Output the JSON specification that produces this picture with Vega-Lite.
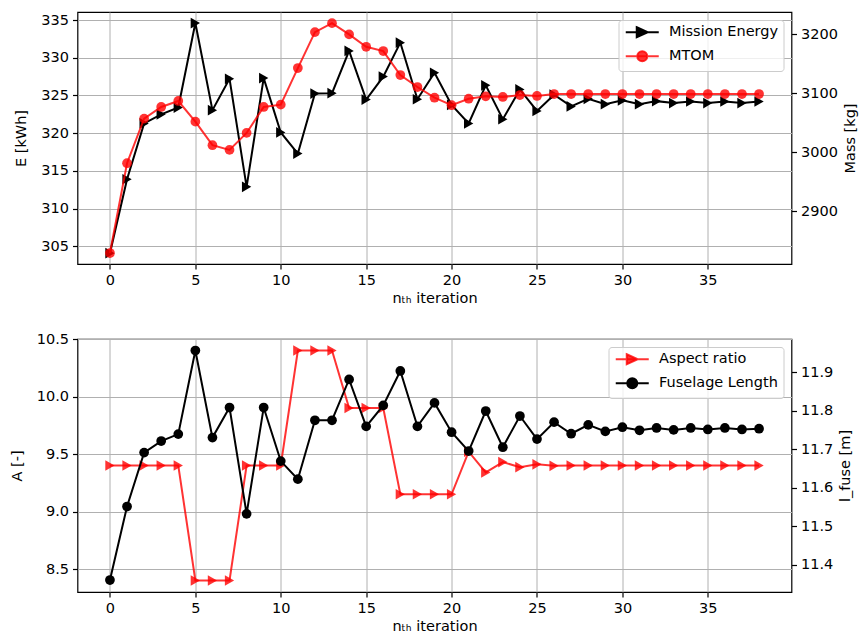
{
  "$schema": "https://vega.github.io/schema/vega-lite/v6.json",
  "padding": {"left": 8.5, "top": 11, "right": 2, "bottom": 2},
  "datasets": {
    "top": [
      {"i": 0, "energy": 304.1, "mtom": 2829.6},
      {"i": 1, "energy": 313.9, "mtom": 2981.8},
      {"i": 2, "energy": 321.3, "mtom": 3057.3},
      {"i": 3, "energy": 322.5, "mtom": 3077.1},
      {"i": 4, "energy": 323.4, "mtom": 3087.2},
      {"i": 5, "energy": 334.6, "mtom": 3052.2},
      {"i": 6, "energy": 323.05, "mtom": 3012.3},
      {"i": 7, "energy": 327.2, "mtom": 3004.3},
      {"i": 8, "energy": 312.9, "mtom": 3033.1},
      {"i": 9, "energy": 327.3, "mtom": 3077.1},
      {"i": 10, "energy": 320.1, "mtom": 3081.0},
      {"i": 11, "energy": 317.3, "mtom": 3143.0},
      {"i": 12, "energy": 325.25, "mtom": 3203.9},
      {"i": 13, "energy": 325.3, "mtom": 3219.1},
      {"i": 14, "energy": 330.9, "mtom": 3200.0},
      {"i": 15, "energy": 324.45, "mtom": 3179.0},
      {"i": 16, "energy": 327.5, "mtom": 3171.8},
      {"i": 17, "energy": 332.0, "mtom": 3131.2},
      {"i": 18, "energy": 324.5, "mtom": 3110.9},
      {"i": 19, "energy": 328.0, "mtom": 3092.8},
      {"i": 20, "energy": 323.75, "mtom": 3080.0},
      {"i": 21, "energy": 321.3, "mtom": 3091.1},
      {"i": 22, "energy": 326.35, "mtom": 3095.1},
      {"i": 23, "energy": 321.85, "mtom": 3094.0},
      {"i": 24, "energy": 325.8, "mtom": 3097.3},
      {"i": 25, "energy": 322.95, "mtom": 3095.7},
      {"i": 26, "energy": 325.1, "mtom": 3099.0},
      {"i": 27, "energy": 323.55, "mtom": 3099.0},
      {"i": 28, "energy": 324.55, "mtom": 3099.0},
      {"i": 29, "energy": 323.85, "mtom": 3099.0},
      {"i": 30, "energy": 324.35, "mtom": 3099.0},
      {"i": 31, "energy": 323.85, "mtom": 3099.0},
      {"i": 32, "energy": 324.25, "mtom": 3099.0},
      {"i": 33, "energy": 324.0, "mtom": 3099.0},
      {"i": 34, "energy": 324.2, "mtom": 3099.0},
      {"i": 35, "energy": 324.0, "mtom": 3099.0},
      {"i": 36, "energy": 324.2, "mtom": 3099.0},
      {"i": 37, "energy": 324.0, "mtom": 3099.0},
      {"i": 38, "energy": 324.2, "mtom": 3099.0}
    ],
    "bottom": [
      {"i": 0, "ar": 9.4, "lfuse": 11.36},
      {"i": 1, "ar": 9.4, "lfuse": 11.551},
      {"i": 2, "ar": 9.4, "lfuse": 11.691},
      {"i": 3, "ar": 9.4, "lfuse": 11.721},
      {"i": 4, "ar": 9.4, "lfuse": 11.739},
      {"i": 5, "ar": 8.4, "lfuse": 11.956},
      {"i": 6, "ar": 8.4, "lfuse": 11.73},
      {"i": 7, "ar": 8.4, "lfuse": 11.808},
      {"i": 8, "ar": 9.4, "lfuse": 11.532},
      {"i": 9, "ar": 9.4, "lfuse": 11.808},
      {"i": 10, "ar": 9.4, "lfuse": 11.669},
      {"i": 11, "ar": 10.4, "lfuse": 11.622},
      {"i": 12, "ar": 10.4, "lfuse": 11.775},
      {"i": 13, "ar": 10.4, "lfuse": 11.775},
      {"i": 14, "ar": 9.9, "lfuse": 11.881},
      {"i": 15, "ar": 9.9, "lfuse": 11.759},
      {"i": 16, "ar": 9.9, "lfuse": 11.8135},
      {"i": 17, "ar": 9.15, "lfuse": 11.903},
      {"i": 18, "ar": 9.15, "lfuse": 11.759},
      {"i": 19, "ar": 9.15, "lfuse": 11.82},
      {"i": 20, "ar": 9.15, "lfuse": 11.744},
      {"i": 21, "ar": 9.52, "lfuse": 11.695},
      {"i": 22, "ar": 9.34, "lfuse": 11.799},
      {"i": 23, "ar": 9.43, "lfuse": 11.705},
      {"i": 24, "ar": 9.385, "lfuse": 11.786},
      {"i": 25, "ar": 9.41, "lfuse": 11.726},
      {"i": 26, "ar": 9.397, "lfuse": 11.77},
      {"i": 27, "ar": 9.4, "lfuse": 11.74},
      {"i": 28, "ar": 9.4, "lfuse": 11.763},
      {"i": 29, "ar": 9.4, "lfuse": 11.746},
      {"i": 30, "ar": 9.4, "lfuse": 11.757},
      {"i": 31, "ar": 9.4, "lfuse": 11.749},
      {"i": 32, "ar": 9.4, "lfuse": 11.755},
      {"i": 33, "ar": 9.4, "lfuse": 11.75},
      {"i": 34, "ar": 9.4, "lfuse": 11.755},
      {"i": 35, "ar": 9.4, "lfuse": 11.751},
      {"i": 36, "ar": 9.4, "lfuse": 11.755},
      {"i": 37, "ar": 9.4, "lfuse": 11.751},
      {"i": 38, "ar": 9.4, "lfuse": 11.753}
    ]
  },
  "config": {
    "font": "DejaVu Sans",
    "view": {"stroke": "black", "strokeWidth": 1.2},
    "axis": {
      "labelFont": "DejaVu Sans", "titleFont": "DejaVu Sans",
      "labelFontSize": 14.5, "titleFontSize": 14.5, "titleFontWeight": "normal",
      "labelColor": "black", "titleColor": "black", "tickColor": "black",
      "tickSize": 5, "tickWidth": 1.2, "domain": false, "labelPadding": 4,
      "gridColor": "#b0b0b0", "gridWidth": 1, "gridOpacity": 1
    },
    "axisX": {"grid": true, "titlePadding": 5},
    "axisLeft": {"titlePadding": 12},
    "axisRight": {"titlePadding": 6},
    "legend": {
      "orient": "top-right", "offset": 8, "title": null,
      "fillColor": "rgba(255,255,255,0.8)", "strokeColor": "#cccccc", "cornerRadius": 3,
      "padding": 5, "labelFont": "DejaVu Sans", "labelFontSize": 14.5, "labelColor": "black",
      "symbolSize": 100, "symbolStrokeWidth": 2, "labelOffset": 31, "rowPadding": 5
    }
  },
  "spacing": 75,
  "bounds": "flush",
  "resolve": {
    "scale": {"shape": "independent", "fill": "independent", "stroke": "independent"},
    "legend": {"shape": "independent", "fill": "independent", "stroke": "independent"}
  },
  "vconcat": [
    {
      "width": 714, "height": 252,
      "data": {"name": "top"},
      "encoding": {
        "x": {"field": "i", "type": "quantitative",
          "scale": {"domain": [-1.9, 39.9], "nice": false, "zero": false},
          "axis": {"values": [0, 5, 10, 15, 20, 25, 30, 35], "title": "nₜₕ iteration"}}
      },
      "layer": [
        {
          "encoding": {
            "y": {"field": "energy", "type": "quantitative",
              "scale": {"domain": [302.67, 336.06], "nice": false, "zero": false},
              "axis": {"values": [305, 310, 315, 320, 325, 330, 335], "title": "E [kWh]", "grid": true}}
          },
          "layer": [
            {"mark": {"type": "line", "color": "black", "strokeWidth": 2}},
            {"mark": {"type": "point", "shape": "triangle-right", "filled": true, "color": "black", "size": 115, "opacity": 1}}
          ]
        },
        {
          "encoding": {
            "y": {"field": "mtom", "type": "quantitative",
              "scale": {"domain": [2811, 3238], "nice": false, "zero": false},
              "axis": {"orient": "right", "values": [2900, 3000, 3100, 3200], "format": "d", "title": "Mass [kg]", "grid": false, "titleAngle": 270, "titleBaseline": "top"}}
          },
          "layer": [
            {"mark": {"type": "line", "color": "#ff0000", "opacity": 0.8, "strokeWidth": 2}},
            {"mark": {"type": "point", "shape": "circle", "filled": true, "color": "#ff0000", "size": 95, "opacity": 0.8}}
          ]
        },
        {
          "transform": [{"filter": "false"}],
          "mark": {"type": "point", "filled": true, "opacity": 1},
          "encoding": {
            "shape": {"field": "series", "type": "nominal",
              "scale": {"domain": ["Mission Energy", "MTOM"], "range": ["M-1,0H5.6M1.2,-1L3.4,0L1.2,1Z", "M-1,0H5.6M3.3,0A1,1,0,1,1,1.3,0A1,1,0,1,1,3.3,0Z"]}},
            "fill": {"field": "series", "type": "nominal",
              "scale": {"domain": ["Mission Energy", "MTOM"], "range": ["black", "rgba(255,0,0,0.8)"]}},
            "stroke": {"field": "series", "type": "nominal",
              "scale": {"domain": ["Mission Energy", "MTOM"], "range": ["black", "rgba(255,0,0,0.8)"]}}
          }
        }
      ],
      "resolve": {"scale": {"y": "independent"}}
    },
    {
      "width": 714, "height": 253,
      "data": {"name": "bottom"},
      "encoding": {
        "x": {"field": "i", "type": "quantitative",
          "scale": {"domain": [-1.9, 39.9], "nice": false, "zero": false},
          "axis": {"values": [0, 5, 10, 15, 20, 25, 30, 35], "title": "nₜₕ iteration"}}
      },
      "layer": [
        {
          "encoding": {
            "y": {"field": "ar", "type": "quantitative",
              "scale": {"domain": [8.3, 10.5], "nice": false, "zero": false},
              "axis": {"values": [8.5, 9.0, 9.5, 10.0, 10.5], "format": ".1f", "title": "A [-]", "grid": true}}
          },
          "layer": [
            {"mark": {"type": "line", "color": "#ff0000", "opacity": 0.8, "strokeWidth": 2}},
            {"mark": {"type": "point", "shape": "triangle-right", "filled": true, "color": "#ff0000", "size": 115, "opacity": 0.8}}
          ]
        },
        {
          "encoding": {
            "y": {"field": "lfuse", "type": "quantitative",
              "scale": {"domain": [11.329, 11.986], "nice": false, "zero": false},
              "axis": {"orient": "right", "values": [11.4, 11.5, 11.6, 11.7, 11.8, 11.9], "format": ".1f", "title": "l_fuse [m]", "grid": false, "titleAngle": 270, "titleBaseline": "top"}}
          },
          "layer": [
            {"mark": {"type": "line", "color": "black", "strokeWidth": 2}},
            {"mark": {"type": "point", "shape": "circle", "filled": true, "color": "black", "size": 95, "opacity": 1}}
          ]
        },
        {
          "transform": [{"filter": "false"}],
          "mark": {"type": "point", "filled": true, "opacity": 1},
          "encoding": {
            "shape": {"field": "series", "type": "nominal",
              "scale": {"domain": ["Aspect ratio", "Fuselage Length"], "range": ["M-1,0H5.6M1.2,-1L3.4,0L1.2,1Z", "M-1,0H5.6M3.3,0A1,1,0,1,1,1.3,0A1,1,0,1,1,3.3,0Z"]}},
            "fill": {"field": "series", "type": "nominal",
              "scale": {"domain": ["Aspect ratio", "Fuselage Length"], "range": ["rgba(255,0,0,0.8)", "black"]}},
            "stroke": {"field": "series", "type": "nominal",
              "scale": {"domain": ["Aspect ratio", "Fuselage Length"], "range": ["rgba(255,0,0,0.8)", "black"]}}
          }
        }
      ],
      "resolve": {"scale": {"y": "independent"}}
    }
  ]
}
